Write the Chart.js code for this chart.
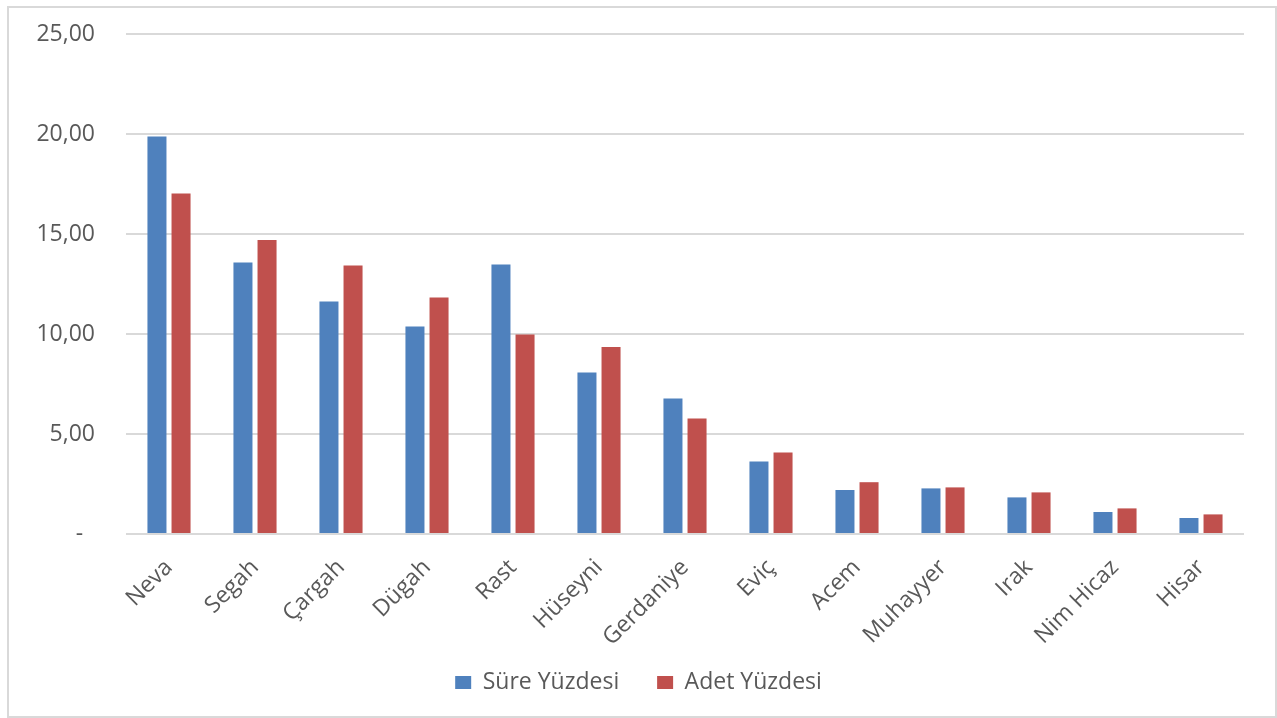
<!DOCTYPE html>
<html>
<head>
	<meta charset="UTF-8">
	<title>Süre ve Adet Yüzdesi</title>
	<script src="https://cdn.jsdelivr.net/npm/chart.js"></script>
	<style>
		body {
			margin: 0;
			background: #ffffff;
		}

		#wrap {
			position: relative;
			width: 1277px;
			height: 718px;
		}

		#frame {
			position: absolute;
			left: 7px;
			top: 6px;
			width: 1270px;
			height: 712px;
			box-sizing: border-box;
			border: 2px solid #d9d9d9;
			pointer-events: none;
		}
	</style>
</head>
<body>
	<div id="wrap">
		<canvas id="myChart"></canvas>
		<div id="frame"></div>
	</div>
	<script>
		// makam names on the x axis
		const makams = ['Neva', 'Segah', 'Çargah', 'Dügah', 'Rast', 'Hüseyni', 'Gerdaniye',
			'Eviç', 'Acem', 'Muhayyer', 'Irak', 'Nim Hicaz', 'Hisar'];

		// series values (percent)
		const sureYuzdesi = [19.87, 13.58, 11.63, 10.38, 13.48, 8.07, 6.78, 3.62, 2.20, 2.28, 1.83, 1.10, 0.80];
		const adetYuzdesi = [17.03, 14.70, 13.42, 11.82, 9.97, 9.35, 5.78, 4.07, 2.59, 2.33, 2.08, 1.28, 0.98];

		const seriesNames = ['Süre Yüzdesi', 'Adet Yüzdesi'];
		const seriesColors = ['#4f81bd', '#c0504d'];

		const fontFamily = "'Open Sans', 'Noto Sans', sans-serif";
		const textColor = '#595959';

		const ctx = document.getElementById('myChart').getContext('2d');

		const chart = new Chart(ctx, {
			type: 'bar',
			data: {
				labels: makams,
				datasets: [
					{
						label: seriesNames[0],
						data: sureYuzdesi,
						backgroundColor: seriesColors[0],
						borderWidth: 0
					},
					{
						label: seriesNames[1],
						data: adetYuzdesi,
						backgroundColor: seriesColors[1],
						borderWidth: 0
					}
				]
			},
			options: {
				responsive: true,
				maintainAspectRatio: false,
				animation: false,
				categoryPercentage: 0.56,
				barPercentage: 0.79,
				layout: {
					padding: {
						left: 33,
						right: 33,
						top: 34,
						bottom: 14
					}
				},
				scales: {
					x: {
						grid: {
							display: false
						},
						border: {
							display: false
						},
						ticks: {
							color: textColor,
							maxRotation: 45,
							minRotation: 45,
							padding: 12,
							font: {
								family: fontFamily,
								size: 23
							}
						},
						afterFit: (scale) => {
							scale.height = 117;
						}
					},
					y: {
						min: 0,
						max: 25,
						ticks: {
							stepSize: 5,
							color: textColor,
							padding: 31,
							font: {
								family: fontFamily,
								size: 23
							},
							callback: (value) => value === 0 ? '-  ' : value.toFixed(2).replace('.', ',')
						},
						grid: {
							color: '#d9d9d9',
							lineWidth: 2,
							drawTicks: false
						},
						border: {
							display: false
						},
						afterFit: (scale) => {
							scale.width = 93;
							// the tick padding should only push the labels sideways, not the top of the plot
							scale.paddingTop = 0;
							scale.paddingBottom = 0;
						}
					}
				},
				plugins: {
					legend: {
						position: 'bottom',
						labels: {
							color: textColor,
							boxWidth: 16,
							boxHeight: 13,
							padding: 20,
							font: {
								family: fontFamily,
								size: 23
							},
							// extra room after the first entry, as in the original legend
							generateLabels: (c) => {
								const items = Chart.defaults.plugins.legend.labels.generateLabels(c);
								items.forEach((item, i) => {
									if (i < items.length - 1) {
										item.text = item.text + '\u00a0\u00a0\u00a0';
									}
								});
								return items;
							}
						}
					},
					tooltip: {
						enabled: false
					}
				}
			}
		});
	</script>
</body>
</html>
